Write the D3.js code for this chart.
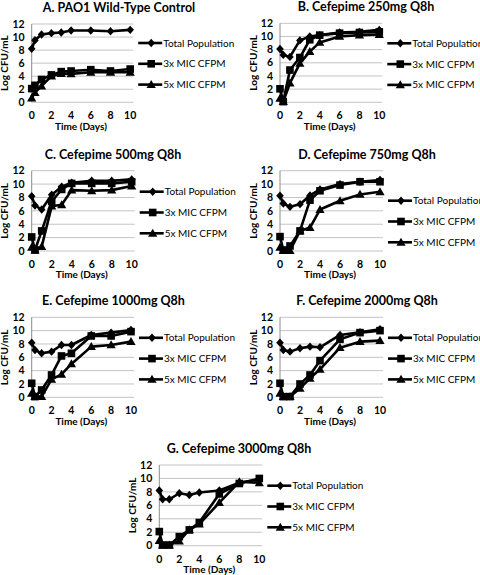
<!DOCTYPE html>
<html>
<head>
<meta charset="utf-8">
<script src="https://cdn.jsdelivr.net/npm/d3@7"></script>
<style>
  html, body { margin: 0; padding: 0; background: #fff; }
  svg { display: block; font-family: Lato, "Open Sans", sans-serif; }
</style>
</head>
<body>
<svg id="chart" width="480" height="575"></svg>
<script>
// ---------------- DATA ----------------
const times = [0, 0.33, 1, 2, 3, 4, 6, 8, 10];
const panelTitles = [
  "A. PAO1 Wild-Type Control",
  "B. Cefepime 250mg Q8h",
  "C. Cefepime 500mg Q8h",
  "D. Cefepime 750mg Q8h",
  "E. Cefepime 1000mg Q8h",
  "F. Cefepime 2000mg Q8h",
  "G. Cefepime 3000mg Q8h"
];
const seriesNames = ["Total Population", "3x MIC CFPM", "5x MIC CFPM"];
const yTicks = [0, 2, 4, 6, 8, 10, 12];
const xTicks = [0, 2, 4, 6, 8, 10];
const xAxisTitle = "Time (Days)";
const yAxisTitle = "Log CFU/mL";

// one row per panel (A..G), values at each time point
const totalPopulation = [
  [8.2, 9.5, 10.4, 10.6, 10.7, 11.0, 11.0, 10.9, 11.1],
  [8.1, 7.2, 6.9, 9.4, 10.0, 10.2, 10.6, 10.7, 11.0],
  [8.2, 6.8, 6.2, 8.4, 9.6, 10.2, 10.5, 10.5, 10.7],
  [8.25, 7.1, 6.6, 7.0, 8.3, 9.2, 10.0, 10.35, 10.6],
  [8.2, 7.1, 6.6, 6.85, 7.85, 7.85, 9.35, 9.7, 10.1],
  [8.2, 7.1, 6.85, 7.35, 7.6, 7.5, 9.35, 9.75, 10.2],
  [8.2, 6.9, 6.9, 7.8, 7.55, 7.9, 8.2, 9.35, 9.85]
];
const mic3x = [
  [2.1, 2.6, 3.5, 4.2, 4.7, 4.8, 5.0, 4.8, 5.1],
  [2.05, 0.1, 4.9, 6.8, 9.5, 10.2, 10.5, 10.6, 10.7],
  [2.1, 0.15, 3.0, 7.4, 9.2, 10.1, 10.1, 10.1, 10.35],
  [2.15, 0.15, 0.75, 3.0, 7.6, 9.0, 9.85, 10.35, 10.35],
  [2.1, 0.1, 1.1, 3.35, 6.2, 6.6, 9.2, 9.2, 9.85],
  [2.1, 0.1, 0.1, 2.0, 3.35, 5.5, 8.7, 9.7, 10.0],
  [2.1, 0.1, 0.1, 1.35, 2.35, 3.45, 7.7, 9.25, 10.0]
];
const mic5x = [
  [0.65, 1.5, 2.5, 4.0, 4.4, 4.35, 4.6, 4.6, 4.6],
  [0.6, 0.1, 2.9, 5.9, 7.7, 9.1, 10.0, 10.2, 10.3],
  [0.55, 0.15, 0.65, 6.7, 6.9, 9.1, 9.0, 9.1, 9.7],
  [0.55, 0.05, 0.05, 3.0, 3.5, 6.2, 7.5, 8.45, 8.85],
  [0.6, 0.1, 0.1, 2.7, 3.45, 5.0, 7.6, 7.85, 8.35],
  [0.6, 0.1, 0.1, 1.35, 2.85, 4.2, 7.45, 8.35, 8.5],
  [0.75, 0.1, 0.1, 0.7, 2.35, 3.2, 6.4, 9.5, 9.35]
];

// ---------------- LAYOUT ----------------
// plot-area origin (left, top), size, title centre, legend vertical offset
const layout = [
  { left: 31.7, top: 24.0, w: 98.5, h: 78.3, titleX: 119, legTop: 19 },
  { left: 280, top: 23.3, w: 99.3, h: 79.0, titleX: 366, legTop: 20 },
  { left: 31.7, top: 170.7, w: 100, h: 80.3, titleX: 113, legTop: 21 },
  { left: 280, top: 170.7, w: 100, h: 80.3, titleX: 367, legTop: 30 },
  { left: 31.7, top: 317.3, w: 99.3, h: 80.0, titleX: 113.5, legTop: 20.5 },
  { left: 280, top: 317.3, w: 100, h: 80.0, titleX: 367, legTop: 20.5 },
  { left: 159.3, top: 465, w: 100, h: 80.7, titleX: 239, legTop: 20.7 }
];

const markers = [
  "M0,-4.2L3.8,0L0,4.2L-3.8,0Z",            // diamond
  "M-3.8,-3.8L3.8,-3.8L3.8,3.8L-3.8,3.8Z",  // square
  "M0,-4.6L4.6,3.4L-4.6,3.4Z"               // triangle
];

const svg = d3.select("#chart");

layout.forEach((L, i) => {
  const g = svg.append("g").attr("transform", `translate(${L.left},${L.top})`);
  const x = d3.scaleLinear().domain([0, 10]).range([0, L.w]);
  const y = d3.scaleLinear().domain([0, 12]).range([L.h, 0]);
  const gridRight = x(10) + 3;

  // gridlines
  g.selectAll("line.grid").data(yTicks).enter().append("line")
    .attr("x1", 0).attr("x2", gridRight)
    .attr("y1", d => y(d)).attr("y2", d => y(d))
    .attr("stroke", "#c4c4c4").attr("stroke-width", 1);

  // y axis line
  g.append("line").attr("x1", 0).attr("x2", 0).attr("y1", y(12)).attr("y2", y(0))
    .attr("stroke", "#8c8c8c").attr("stroke-width", 1);

  // y tick labels
  g.selectAll("text.yt").data(yTicks).enter().append("text")
    .attr("x", -7).attr("y", d => y(d)).attr("dy", "0.35em")
    .attr("text-anchor", "end").attr("font-size", 10.5).attr("font-weight", "bold")
    .text(d => d);

  // x tick labels
  g.selectAll("text.xt").data(xTicks).enter().append("text")
    .attr("x", d => x(d)).attr("y", L.h + 17)
    .attr("text-anchor", "middle").attr("font-size", 10.5).attr("font-weight", "bold")
    .text(d => d);

  // axis titles
  g.append("text").attr("x", x(5)).attr("y", L.h + 27.5)
    .attr("text-anchor", "middle").attr("font-size", 10).attr("font-weight", "bold")
    .text(xAxisTitle);
  g.append("text")
    .attr("transform", `translate(-23.5,${L.h / 2}) rotate(-90)`)
    .attr("text-anchor", "middle").attr("font-size", 10).attr("font-weight", "bold")
    .text(yAxisTitle);

  // title
  svg.append("text").attr("x", L.titleX).attr("y", L.top - 12)
    .attr("text-anchor", "middle").attr("font-size", 12.5).attr("font-weight", "bold")
    .text(panelTitles[i]);

  // series
  const seriesData = [totalPopulation[i], mic3x[i], mic5x[i]];
  const line = d3.line().x((d, k) => x(times[k])).y(d => y(d));
  seriesData.forEach((vals, s) => {
    g.append("path").attr("d", line(vals))
      .attr("fill", "none").attr("stroke", "#000").attr("stroke-width", 2.6)
      .attr("stroke-linejoin", "round");
    g.selectAll(null).data(vals).enter().append("path")
      .attr("d", markers[s])
      .attr("transform", (d, k) => `translate(${x(times[k])},${y(d)})`)
      .attr("fill", "#000");
  });

  // legend
  const lx = x(10) + 8;
  seriesNames.forEach((name, s) => {
    const ly = L.legTop + s * 20.8;
    g.append("line").attr("x1", lx).attr("x2", lx + 24).attr("y1", ly).attr("y2", ly)
      .attr("stroke", "#000").attr("stroke-width", 2.6);
    g.append("path").attr("d", markers[s])
      .attr("transform", `translate(${lx + 13},${ly})`).attr("fill", "#000");
    g.append("text").attr("x", lx + 25).attr("y", ly).attr("dy", "0.35em")
      .attr("font-size", 10).text(name);
  });
});
</script>
</body>
</html>
